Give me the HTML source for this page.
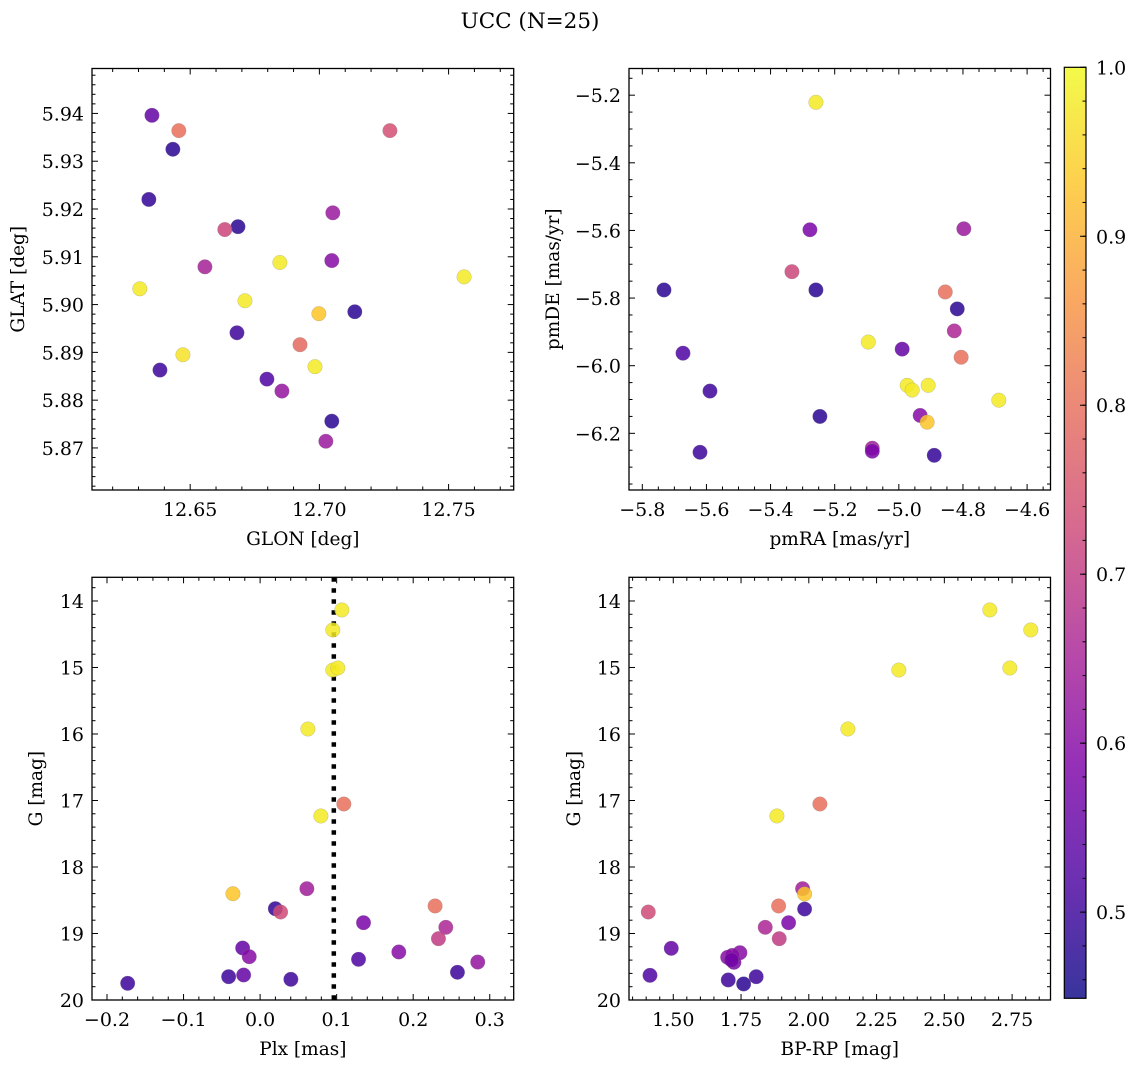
<!DOCTYPE html>
<html><head><meta charset="utf-8">
<style>
html,body{margin:0;padding:0;background:#fff;}
svg{display:block;font-family:"DejaVu Serif","Liberation Serif",serif;}
</style></head>
<body>
<svg id="fig" width="1136" height="1067" viewBox="0 0 1136 1067" xmlns="http://www.w3.org/2000/svg">
<text x="530" y="28" font-size="21.5" text-anchor="middle">UCC (N=25)</text>
</svg>
<script>
// ---- data ----
const glon = [12.6352,12.6456,12.6433,12.6340,12.6685,12.6634,12.7273,12.7052,12.6557,12.6305,12.6847,12.7048,12.6712,12.6998,12.7137,12.7560,12.6681,12.6925,12.6472,12.6383,12.6983,12.6797,12.6855,12.7048,12.7025];
const glat = [5.9396,5.9364,5.9325,5.9220,5.9163,5.9157,5.9364,5.9192,5.9079,5.9033,5.9088,5.9092,5.9008,5.8981,5.8985,5.9058,5.8941,5.8916,5.8895,5.8863,5.8870,5.8844,5.8819,5.8756,5.8714];
const probA = [0.55,0.80,0.48,0.49,0.48,0.72,0.74,0.63,0.65,0.98,0.98,0.60,0.98,0.93,0.48,0.98,0.50,0.79,0.97,0.50,0.98,0.52,0.62,0.48,0.63];

const pmra = [-5.2586,-5.2773,-4.7973,-5.3334,-5.7324,-5.2586,-4.8552,-4.8178,-4.8271,-5.0952,-5.6731,-4.9896,-4.8057,-4.9740,-4.9584,-4.9085,-5.5890,-5.2461,-4.9335,-4.6882,-4.9117,-5.0828,-5.0828,-5.6201,-4.8896];
const pmde = [-5.221,-5.598,-5.595,-5.722,-5.776,-5.776,-5.782,-5.832,-5.897,-5.930,-5.963,-5.951,-5.975,-6.058,-6.072,-6.058,-6.075,-6.150,-6.147,-6.102,-6.167,-6.244,-6.253,-6.256,-6.265];
const probB = [0.98,0.58,0.63,0.72,0.48,0.48,0.80,0.48,0.66,0.98,0.52,0.55,0.80,0.98,0.98,0.98,0.50,0.48,0.60,0.98,0.93,0.64,0.58,0.50,0.49];

const plx = [0.1068,0.0950,0.0950,0.1016,0.0624,0.1094,0.0794,-0.173,-0.0355,0.0199,0.0268,0.0611,-0.0228,-0.0142,-0.0411,-0.0215,0.0402,0.1351,0.1286,0.1812,0.2286,0.2426,0.2330,0.2578,0.2843];
const gmagC = [14.135,14.436,15.038,15.008,15.925,17.053,17.233,19.749,18.402,18.627,18.677,18.326,19.218,19.349,19.650,19.624,19.689,18.838,19.388,19.278,18.586,18.907,19.078,19.583,19.429];
const probC = [0.98,0.98,0.98,0.98,0.98,0.80,0.98,0.50,0.93,0.49,0.73,0.64,0.55,0.60,0.50,0.55,0.50,0.58,0.52,0.60,0.80,0.66,0.70,0.50,0.62];
const plxRef = [0.0963];

const bprp = [1.4078,1.4926,1.4141,1.7006,1.7238,1.7459,1.7028,1.7596,1.8060,1.8392,1.8909,1.8886,1.9255,1.9771,1.9845,1.9845,2.6678,2.8190,2.7416,2.3322,2.1441,2.0409,1.8823,1.7177,1.7150];
const gmagD = [18.677,19.223,19.629,19.358,19.433,19.289,19.699,19.759,19.650,18.907,19.078,18.586,18.838,18.326,18.406,18.632,14.135,14.436,15.008,15.038,15.925,17.053,17.233,19.330,19.400];
const probD = [0.73,0.55,0.52,0.60,0.58,0.60,0.50,0.48,0.50,0.66,0.70,0.80,0.58,0.64,0.93,0.50,0.98,0.98,0.98,0.98,0.98,0.80,0.98,0.60,0.57];

const cbTicks = [0.5,0.6,0.7,0.8,0.9,1.0];
const VMIN = 0.449, VMAX = 1.0;

// ---- helpers ----
const NS = "http://www.w3.org/2000/svg";
const svg = document.getElementById('fig');
function mk(tag, attrs, parent){ const e=document.createElementNS(NS,tag); for(const k in attrs) e.setAttribute(k,attrs[k]); (parent||svg).appendChild(e); return e; }
const stops=[[13,8,135],[76,2,161],[126,3,168],[169,35,149],[204,71,120],[229,107,93],[248,149,64],[253,197,39],[240,249,33]];
function plasma(t){ t=Math.max(0,Math.min(1,t)); const p=t*8, i=Math.min(7,Math.floor(p)), f=p-i; const a=stops[i], b=stops[i+1]; return 'rgb('+a.map((v,j)=>Math.round(v+(b[j]-v)*f)).join(',')+')'; }
function cmap(v){ return plasma((v-VMIN)/(VMAX-VMIN)); }
function fmt(v,d){ const s=v.toFixed(d); return s.replace('-','\u2212'); }
const TFS=19, LFS=18.5;

function panel(o){
  const g=mk('g',{});
  
  
  const sx=v=>o.x0+(v-o.xmin)/(o.xmax-o.xmin)*(o.x1-o.x0);
  const sy=o.yinv ? (v=>o.y0+(v-o.ymin)/(o.ymax-o.ymin)*(o.y1-o.y0)) : (v=>o.y1-(v-o.ymin)/(o.ymax-o.ymin)*(o.y1-o.y0));
  if(o.vline){ const l=mk('line',{x1:sx(o.vline[0]),x2:sx(o.vline[0]),y1:o.y0,y2:o.y1,stroke:'#000','stroke-width':4.5,'stroke-dasharray':'4.5 6.5'},g);
      }
  for(let i=0;i<o.xs.length;i++){
    const c=mk('circle',{cx:sx(o.xs[i]),cy:sy(o.ys[i]),r:7.3,fill:cmap(o.cs[i]),'fill-opacity':0.85,stroke:'#888','stroke-width':0.4,'stroke-opacity':0.6},g);
    
    
  }
  const fr=mk('rect',{x:o.x0,y:o.y0,width:o.x1-o.x0,height:o.y1-o.y0,fill:'none',stroke:'#000','stroke-width':1.3},g);
   
  const eps=1e-9;
  for(let v=Math.ceil(o.xmin/o.xminor-eps)*o.xminor; v<=o.xmax+eps; v+=o.xminor){
    const px=sx(v); const isMaj=Math.abs(v/o.xmajor-Math.round(v/o.xmajor))<1e-4; const L=isMaj?6:3.5;
    mk('line',{x1:px,x2:px,y1:o.y1,y2:o.y1-L,stroke:'#000','stroke-width':1},g);
    mk('line',{x1:px,x2:px,y1:o.y0,y2:o.y0+L,stroke:'#000','stroke-width':1},g);
    if(isMaj){ const t=mk('text',{x:px,y:o.y1+26,'font-size':TFS,'text-anchor':'middle'},g); t.textContent=fmt(Math.round(v/o.xmajor)*o.xmajor,o.xdec);
        }
  }
  for(let v=Math.ceil(o.ymin/o.yminor-eps)*o.yminor; v<=o.ymax+eps; v+=o.yminor){
    const py=sy(v); const isMaj=Math.abs(v/o.ymajor-Math.round(v/o.ymajor))<1e-4; const L=isMaj?6:3.5;
    mk('line',{x1:o.x0,x2:o.x0+L,y1:py,y2:py,stroke:'#000','stroke-width':1},g);
    mk('line',{x1:o.x1,x2:o.x1-L,y1:py,y2:py,stroke:'#000','stroke-width':1},g);
    if(isMaj){ const t=mk('text',{x:o.x0-8,y:py+7,'font-size':TFS,'text-anchor':'end'},g); t.textContent=fmt(Math.round(v/o.ymajor)*o.ymajor,o.ydec);
        }
  }
  const xl=mk('text',{x:(o.x0+o.x1)/2,y:o.y1+55,'font-size':LFS,'text-anchor':'middle'},g); xl.textContent=o.xlabel;
   
  const yx=o.ylabx, yy=(o.y0+o.y1)/2;
  const yl=mk('text',{x:yx,y:yy,'font-size':LFS,'text-anchor':'middle',transform:'rotate(-90 '+yx+' '+yy+')'},g); yl.textContent=o.ylabel;
   
}

panel({name:'glon-glat-panel',x0:92,x1:513.7,y0:68.5,y1:490,xmin:12.6120,xmax:12.7752,ymin:5.8612,ymax:5.9494,
  xmajor:0.05,xminor:0.01,xdec:2,ymajor:0.01,yminor:0.002,ydec:2,xs:glon,ys:glat,cs:probA,xlabel:'GLON [deg]',ylabel:'GLAT [deg]',ylabx:24});
panel({name:'proper-motion-panel',x0:629,x1:1050.5,y0:68.5,y1:490,xmin:-5.8415,xmax:-4.527,ymin:-6.3676,ymax:-5.1211,
  xmajor:0.2,xminor:0.05,xdec:1,ymajor:0.2,yminor:0.05,ydec:1,xs:pmra,ys:pmde,cs:probB,xlabel:'pmRA [mas/yr]',ylabel:'pmDE [mas/yr]',ylabx:559});
panel({name:'parallax-magnitude-panel',x0:92,x1:513.7,y0:577.3,y1:1000,xmin:-0.2196,xmax:0.3313,ymin:13.644,ymax:20,yinv:true,vline:plxRef,
  xmajor:0.1,xminor:0.02,xdec:1,ymajor:1,yminor:0.2,ydec:0,xs:plx,ys:gmagC,cs:probC,xlabel:'Plx [mas]',ylabel:'G [mag]',ylabx:42});
panel({name:'color-magnitude-panel',x0:629,x1:1050.5,y0:577.3,y1:1000,xmin:1.3367,xmax:2.8916,ymin:13.644,ymax:20,yinv:true,
  xmajor:0.25,xminor:0.05,xdec:2,ymajor:1,yminor:0.2,ydec:0,xs:bprp,ys:gmagD,cs:probD,xlabel:'BP-RP [mag]',ylabel:'G [mag]',ylabx:580});

// ---- colorbar ----
const cb=mk('g',{});


const defs=mk('defs',{},cb);
const grad=mk('linearGradient',{id:'cbg',x1:0,y1:1,x2:0,y2:0},defs);
for(let k=0;k<=8;k++){ mk('stop',{offset:k/8,'stop-color':'rgb('+stops[k].join(',')+')','stop-opacity':0.82},grad); }
const cbx0=1064.3,cbx1=1086,cby0=67.3,cby1=998.3;
const cbs=v=>cby1-(v-VMIN)/(VMAX-VMIN)*(cby1-cby0);
mk('rect',{x:cbx0,y:cby0,width:cbx1-cbx0,height:cby1-cby0,fill:'url(#cbg)',stroke:'#000','stroke-width':1.2},cb);
for(let v=0.46;v<=1.0001;v+=0.02){ const py=cbs(v); mk('line',{x1:cbx1,x2:cbx1-3.5,y1:py,y2:py,stroke:'#000','stroke-width':1},cb); }
cbTicks.forEach(v=>{ const py=cbs(v);
  mk('line',{x1:cbx1,x2:cbx1-6,y1:py,y2:py,stroke:'#000','stroke-width':1},cb);
  const t=mk('text',{x:cbx1+10,y:py+7,'font-size':TFS},cb); t.textContent=v.toFixed(1);
    });
</script>
</body></html>
